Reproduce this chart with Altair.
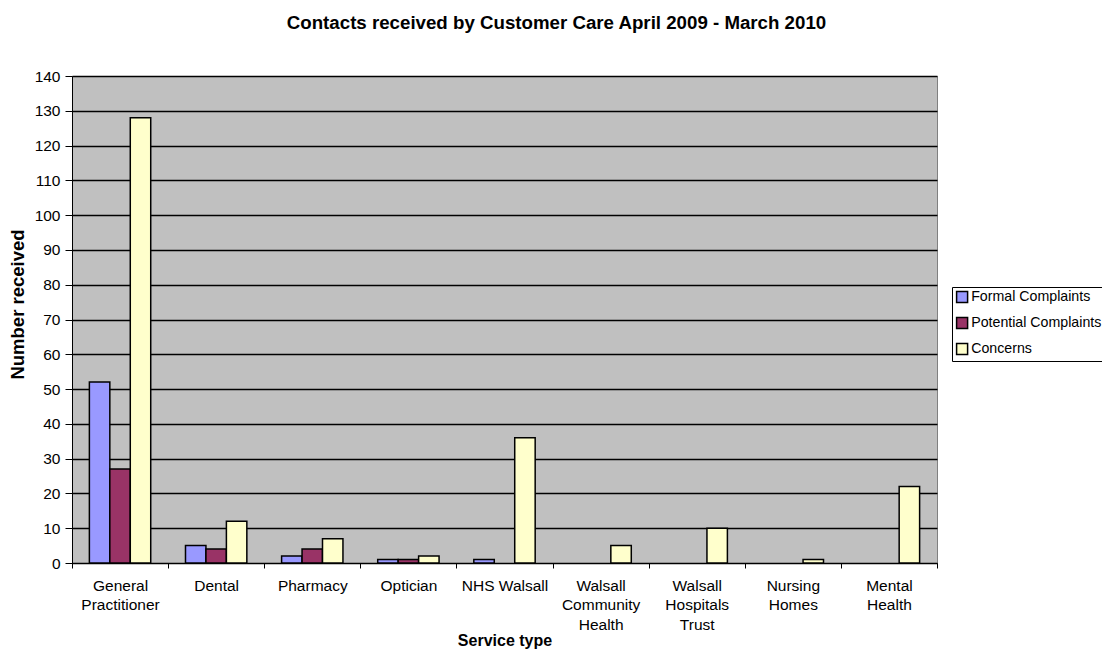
import altair as alt
import pandas as pd

categories = ["General\nPractitioner", "Dental", "Pharmacy", "Optician", "NHS Walsall",
              "Walsall\nCommunity\nHealth", "Walsall\nHospitals\nTrust", "Nursing\nHomes", "Mental\nHealth"]
series = ["Formal Complaints", "Potential Complaints", "Concerns"]
formal = [52, 5, 2, 1, 1, 0, 0, 0, 0]
potential = [27, 4, 4, 1, 0, 0, 0, 0, 0]
concerns = [128, 12, 7, 2, 36, 5, 10, 1, 22]
colors = ["#9999FF", "#993366", "#FFFFCC"]

rows = []
for s, vals in zip(series, [formal, potential, concerns]):
    for c, v in zip(categories, vals):
        rows.append({"cat": c, "series": s, "value": v})
df = pd.DataFrame(rows)
df = df[df["value"] > 0]

FONT = "Liberation Sans"

chart = alt.Chart(df).mark_bar(stroke="black", strokeWidth=1.5).encode(
    x=alt.X("cat:N", sort=categories, scale=alt.Scale(paddingInner=0, paddingOuter=0),
            axis=alt.Axis(title="Service type", labelAngle=0, tickBand="extent",
                          labelExpr="split(datum.label, '\\n')", labelLineHeight=19.5,
                          labelPadding=10, labelBaseline="top", tickSize=5,
                          domainColor="black", tickColor="black", labelColor="black",
                          labelFont=FONT, labelFontSize=15.5, titleFont=FONT, titleFontSize=16,
                          titleFontWeight="bold", titleY=77, titleBaseline="middle",
                          grid=False)),
    xOffset=alt.XOffset("series:N", sort=series,
                        scale=alt.Scale(domain=series, paddingInner=0, paddingOuter=0.85)),
    y=alt.Y("value:Q", scale=alt.Scale(domain=[0, 140], nice=False),
            axis=alt.Axis(title="Number received", values=list(range(0, 141, 10)),
                          tickSize=7, domainColor="black", tickColor="black",
                          gridColor="black", gridWidth=1.3, labelColor="black",
                          labelFont=FONT, labelFontSize=15.5, labelPadding=5,
                          titleFont=FONT, titleFontSize=18.5, titleFontWeight="bold",
                          titleX=-55, titleY=228, titleAngle=-90, titleAlign="center",
                          titleBaseline="middle")),
    color=alt.Color("series:N", sort=series,
                    scale=alt.Scale(domain=series, range=colors),
                    legend=alt.Legend(title=None, orient="none", legendX=880, legendY=211,
                                      symbolType="square", symbolSize=121,
                                      symbolStrokeColor="black", symbolStrokeWidth=1.5,
                                      labelFont=FONT, labelFontSize=14.2, labelColor="black",
                                      labelOffset=2, strokeColor="black", fillColor="white",
                                      padding=3, rowPadding=8, labelLimit=300)),
).properties(
    width=865, height=487,
    title=alt.TitleParams("Contacts received by Customer Care April 2009 - March 2010",
                          font=FONT, fontSize=18.7, fontWeight="bold", color="black",
                          anchor="middle", dx=52, offset=36),
    autosize=alt.AutoSizeParams(type="none"),
    padding={"left": 64, "top": 68, "right": 165, "bottom": 86},
).configure_view(
    fill="#C0C0C0", stroke="#808080", strokeWidth=1
)

chart.save("out.html", embed_options={"renderer": "svg", "actions": False})
